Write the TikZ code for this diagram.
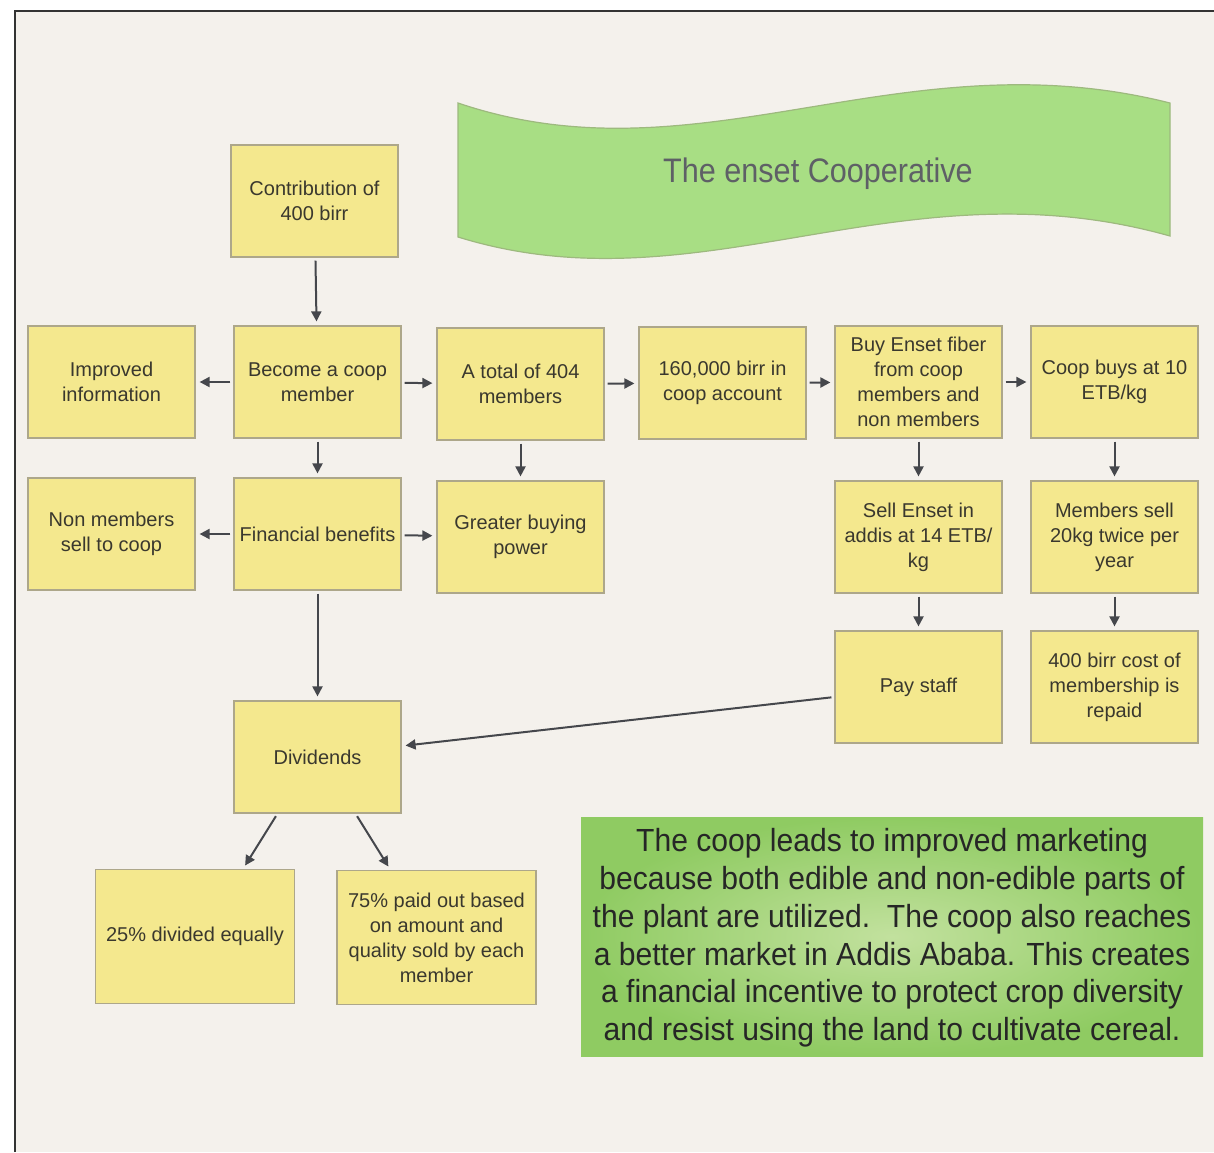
\documentclass[tikz,border=0pt]{standalone}
\usepackage{fontspec}
\setmainfont{Liberation Sans}
\newfontfamily\notefont[FakeStretch=0.94]{Liberation Sans}
\newfontfamily\bannerfont[FakeStretch=0.9]{Liberation Sans}
\usetikzlibrary{arrows.meta}
\definecolor{bgcol}{HTML}{F4F1EC}
\definecolor{boxfill}{HTML}{F4E88E}
\definecolor{boxedge}{HTML}{ADA78A}
\definecolor{boxtext}{HTML}{3A382E}
\definecolor{arrowcol}{HTML}{45474C}
\definecolor{bannerfill}{HTML}{A8DE84}
\definecolor{banneredge}{HTML}{9DB97E}
\definecolor{bannertext}{HTML}{5E6066}
\definecolor{noteinner}{HTML}{C2E19E}
\definecolor{noteouter}{HTML}{8FCB62}
\definecolor{framecol}{HTML}{333333}
\tikzset{
  box/.style={draw=boxedge, line width=0.6pt, fill=boxfill, text=boxtext,
    minimum width=83.5pt, minimum height=56pt, align=center, inner sep=1pt,
    font=\fontsize{10}{12.5}\selectfont},
  bigbox/.style={box, minimum width=99.5pt, minimum height=67pt},
  arr/.style={draw=arrowcol, line width=1pt, -{Triangle[length=5pt,width=5pt]},
    shorten >=2pt, shorten <=1.5pt}
}
\begin{document}
\begin{tikzpicture}[x=0.5pt,y=-0.5pt]
\useasboundingbox (0,0) rectangle (1214,1152);
\fill[white] (0,0) rectangle (1214,1152);
\fill[bgcol] (15,11) rectangle (1214,1152);
\draw[framecol, line width=1pt] (15,1152) -- (15,11) -- (1214,11);

% banner
\fill[bannerfill, draw=banneredge, line width=0.6pt]
  (458,103) .. controls (700,185) and (900,35) .. (1170,103)
  -- (1170,236) .. controls (900,160) and (700,312) .. (458,237) -- cycle;
\node[text=bannertext, font=\bannerfont\fontsize{17}{20}\selectfont] (title) at (818,174) {The enset Cooperative};

% boxes
\node[box] (contrib) at (314.5,201) {Contribution of\\400 birr};
\node[box] (info) at (111.5,382) {Improved\\information};
\node[box] (member) at (317.5,382) {Become a coop\\member};
\node[box] (total) at (520.5,384) {A total of 404\\members};
\node[box] (account) at (722.5,383) {160,000 birr in\\coop account};
\node[box] (buy) at (918.5,382) {Buy Enset fiber\\from coop\\members and\\non members};
\node[box] (coopbuys) at (1114.5,382) {Coop buys at 10\\ETB/kg};
\node[box] (nonmem) at (111.5,534) {Non members\\sell to coop};
\node[box] (fin) at (317.5,534) {Financial benefits};
\node[box] (greater) at (520.5,537) {Greater buying\\power};
\node[box] (sell) at (918.5,537) {Sell Enset in\\addis at 14 ETB/\\kg};
\node[box] (memsell) at (1114.5,537) {Members sell\\20kg twice per\\year};
\node[box] (pay) at (918.5,687) {Pay staff};
\node[box] (repaid) at (1114.5,687) {400 birr cost of\\membership is\\repaid};
\node[box] (div) at (317.5,757) {Dividends};
\node[bigbox] (q25) at (195,936.5) {25\% divided equally};
\node[bigbox] (q75) at (436.5,937.5) {75\% paid out based\\on amount and\\quality sold by each\\member};

% note
\shade[inner color=noteinner, outer color=noteouter] (581,817) rectangle (1203,1056);
\node[text=black!85, align=center, font=\notefont\fontsize{16}{18.9}\selectfont] (note) at (892,938)
 {The coop leads to improved marketing\\because both edible and non-edible parts of\\the plant are utilized.\ \ The coop also reaches\\a better market in Addis Ababa. This creates\\a financial incentive to protect crop diversity\\and resist using the land to cultivate cereal.};

% connectors
\draw[arr] (contrib) -- (member);
\draw[arr] (member) -- (info);
\draw[arr] (member) -- (total);
\draw[arr] (total) -- (account);
\draw[arr] (account) -- (buy);
\draw[arr] (buy) -- (coopbuys);
\draw[arr] (member) -- (fin);
\draw[arr] (total) -- (greater);
\draw[arr] (fin) -- (nonmem);
\draw[arr] (fin) -- (greater);
\draw[arr] (buy) -- (sell);
\draw[arr] (coopbuys) -- (memsell);
\draw[arr] (sell) -- (pay);
\draw[arr] (memsell) -- (repaid);
\draw[arr] (fin) -- (div);
\draw[arr] (pay.west |- 0,697) -- (div.east |- 0,746);
\draw[arr] ([xshift=-20pt]div.south) -- ([xshift=24pt]q25.north);
\draw[arr] ([xshift=19pt]div.south) -- ([xshift=-23pt]q75.north);
\end{tikzpicture}
\end{document}
